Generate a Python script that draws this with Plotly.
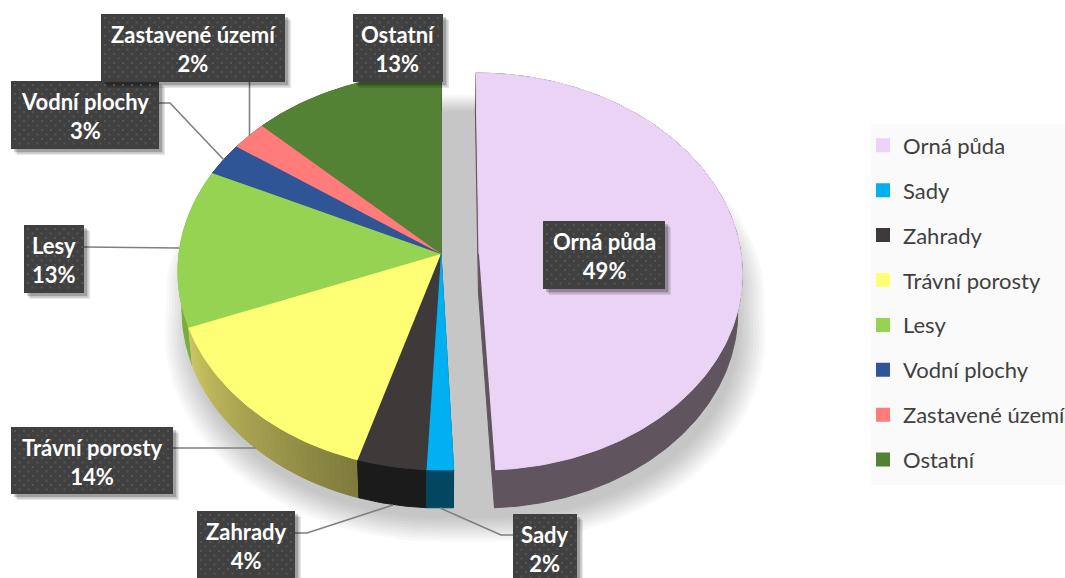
import numpy as np
import plotly.graph_objects as go

categories = ["Orná půda", "Sady", "Zahrady", "Trávní porosty", "Lesy", "Vodní plochy", "Zastavené území", "Ostatní"]
values = [49.3, 1.5, 3.9, 14.4, 12.9, 2.7, 2.4, 12.9]
top_colors = ["#EBD3F5", "#00B0F0", "#3E3A3A", "#FFFF75", "#96D353", "#2F5597", "#FF7C7A", "#548235"]
wall_left = ["#60545F", "#00475F", "#1C1B1B", "#CDC562", "#77AE3D", "#203B6A", "#B25655", "#3A5B25"]
wall_right = ["#60545F", "#00475F", "#1C1B1B", "#7D7A3C", "#77AE3D", "#203B6A", "#B25655", "#3A5B25"]

# label boxes: x0, x1, y0, y1
label_boxes = [(543, 665, 221, 289), (513, 577, 514, 581), (197, 295, 511, 578), (11, 173, 427, 494),
               (24, 84, 225, 293), (11, 159, 81, 149), (101, 285, 14, 82), (353, 443, 14, 82)]
leaders = [None, [(513, 535), (501, 535), (440, 508)], [(295, 533), (307, 533), (393, 505)],
           [(173, 448), (256, 448)], [(84, 247), (179, 248)], [(159, 103), (170, 103), (224, 160)],
           [(249.5, 82), (249.5, 136)], None]

CX, CY, A, B, K, DEPTH = 441, 254, 262, 197, 0.088, 38
LOWER_SCALE = 0.985
EXPLODE = [0.145, 0, 0, 0, 0, 0, 0, 0]


def project(u, v, dy=0.0, dx=0.0, scale=1.0):
    u, v = np.asarray(u, float), np.asarray(v, float)
    s = 1 / (1 + K * v)
    return CX + A * scale * u * s + dx, CY - B * v * s + dy


def arc(t0, t1, step=1.0):
    n = max(int(abs(t1 - t0) / step), 2)
    return np.radians(np.linspace(t0, t1, n + 1))


def hexmix(c0, c1, f):
    a = [int(c0[i:i + 2], 16) for i in (1, 3, 5)]
    b = [int(c1[i:i + 2], 16) for i in (1, 3, 5)]
    return "#%02X%02X%02X" % tuple(round(x + (y - x) * f) for x, y in zip(a, b))


def poly(x, y, color, line=True):
    return go.Scatter(x=list(x), y=list(y), mode="lines", fill="toself", fillcolor=color,
                      line=dict(color=color, width=1.0 if line else 0), showlegend=False, hoverinfo="skip")


fig = go.Figure()

# soft drop shadow under the whole pie
for m in np.linspace(0.95, 1.05, 10):
    th_r = arc(0, 180)
    th_l = arc(180, 360)
    x_parts, y_parts = [], []
    for ths, du, dx in ((th_r, EXPLODE[0], 10), (th_l, 0, 0)):
        u = m * np.sin(ths) + du
        v = m * np.cos(ths)
        dy = np.where(v < 0, 60, 30)
        px, py = project(u, v, dy, dx)
        x_parts.append(px)
        y_parts.append(py)
    fig.add_trace(go.Scatter(x=np.concatenate(x_parts), y=np.concatenate(y_parts), mode="lines", fill="toself",
                             fillcolor="rgba(0,0,0,0.025)", line=dict(width=0), showlegend=False, hoverinfo="skip"))

starts = np.cumsum([0] + values[:-1]) * 3.6
ends = np.cumsum(values) * 3.6

# order: far slices first, so near ones overlap them
for i in [7, 6, 5, 4, 3, 2, 1, 0]:
    t0, t1 = starts[i], ends[i]
    du = EXPLODE[i]
    for t in (t0, t1):
        r = np.radians(t)
        x1, y1 = project([du, du + np.sin(r)], [0.0, np.cos(r)])
        x2, y2 = project([du, du + np.sin(r)], [0.0, np.cos(r)], DEPTH, scale=LOWER_SCALE)
        fig.add_trace(poly([x1[0], x1[1], x2[1], x2[0]], [y1[0], y1[1], y2[1], y2[0]], wall_left[i]))
    # rim wall in bands, so the shading can run across it
    bands = 40 if wall_left[i] != wall_right[i] else 1
    edges = np.linspace(t0, t1, bands + 1)
    for b in range(bands):
        t = arc(edges[b], edges[b + 1], 0.5)
        xa, ya = project(du + np.sin(t), np.cos(t))
        xb, yb = project(du + np.sin(t), np.cos(t), DEPTH, scale=LOWER_SCALE)
        col = hexmix(wall_left[i], wall_right[i], 1 - (b + 0.5) / bands)
        fig.add_trace(poly(np.r_[xa, xb[::-1]], np.r_[ya, yb[::-1]], col))

for i in [7, 6, 5, 4, 3, 2, 1, 0]:
    th = arc(starts[i], ends[i])
    du = EXPLODE[i]
    x, y = project(np.r_[du, du + np.sin(th)], np.r_[0, np.cos(th)])
    fig.add_trace(poly(x, y, top_colors[i]))

# leader lines
for pts in leaders:
    if pts:
        fig.add_trace(go.Scatter(x=[p[0] for p in pts], y=[p[1] for p in pts], mode="lines",
                                 line=dict(color="#7F7F7F", width=1.6), showlegend=False, hoverinfo="skip"))

# data label boxes
dots_x, dots_y = [], []
for (x0, x1, y0, y1) in label_boxes:
    for off, alpha in ((6, 0.10), (4.5, 0.14), (3, 0.18)):
        fig.add_trace(poly([x0 + off, x1 + off, x1 + off, x0 + off], [y0 + off, y0 + off, y1 + off, y1 + off],
                           f"rgba(0,0,0,{alpha})", line=False))
    fig.add_trace(poly([x0, x1, x1, x0], [y0, y0, y1, y1], "#404040", line=False))
    for r, yy in enumerate(np.arange(y0 + 4, y1 - 1, 4.5)):
        for xx in np.arange(x0 + 4 + (r % 2) * 4.5, x1 - 1, 9):
            dots_x.append(xx)
            dots_y.append(yy)
fig.add_trace(go.Scatter(x=dots_x, y=dots_y, mode="markers", marker=dict(symbol="square", size=2, color="#555555", line=dict(width=0)),
                         showlegend=False, hoverinfo="skip"))

# legend entries
for name, col in zip(categories, top_colors):
    fig.add_trace(go.Scatter(x=[None], y=[None], mode="markers", name=name, legendgroup=name,
                             marker=dict(symbol="square", size=14, color=col, line=dict(width=0))))

for name, val, (x0, x1, y0, y1) in zip(categories, values, label_boxes):
    fig.add_annotation(x=(x0 + x1) / 2, y=(y0 + y1) / 2 + 1, xref="x", yref="y", showarrow=False,
                       text=f"<b>{name}</b><br><b>{round(val)}%</b>", align="center",
                       font=dict(family="Lato", size=22, color="#FFFFFF"))

fig.add_shape(type="rect", x0=871, x1=1065, y0=124, y1=485, xref="x", yref="y", layer="below",
              fillcolor="#FAFAFA", line=dict(width=0))

fig.update_layout(
    width=1065, height=578, margin=dict(l=0, r=0, t=0, b=0, autoexpand=False),
    paper_bgcolor="white", plot_bgcolor="white",
    xaxis=dict(range=[0, 1065], visible=False, fixedrange=True),
    yaxis=dict(range=[578, 0], visible=False, fixedrange=True),
    legend=dict(x=863 / 1065, y=1 - 124.5 / 578, xanchor="left", yanchor="top", bgcolor="rgba(0,0,0,0)",
                font=dict(family="Lato", size=22, color="#404040"), tracegroupgap=13.3,
                entrywidth=170, entrywidthmode="pixels", itemclick=False, itemdoubleclick=False),
)
fig.write_html("out.html", config={"displayModeBar": False},
               post_script="document.body.style.margin='0';document.documentElement.style.overflow='hidden';")
